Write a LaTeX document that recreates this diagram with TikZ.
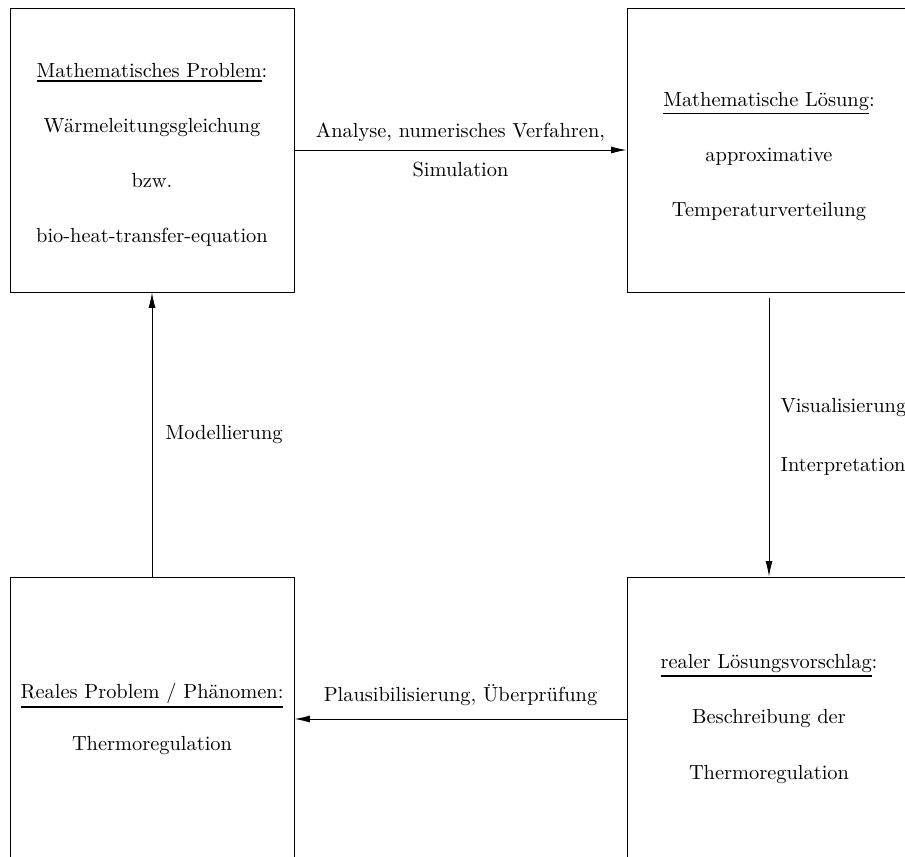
\documentclass[tikz,border=0pt]{standalone}
\usetikzlibrary{arrows.meta}
\newcommand{\heavyul}[1]{\vtop{\hbox{#1}\kern1.1pt\hrule height .95pt}}

\begin{document}
\begin{tikzpicture}[x=.49pt,y=-.49pt,line width=.45pt,
  box/.style={draw,rectangle,minimum width=139.2pt,minimum height=139.2pt,align=center,inner sep=0pt,font=\fontsize{10}{27}\selectfont},
  lbl/.style={align=left,inner sep=0pt,font=\fontsize{10}{29}\selectfont},
  >={Latex[length=7.5pt,width=3.4pt]}]
\path[use as bounding box] (0,0) rectangle (905,856);
\clip (0,0) rectangle (905,856);
\node[box] (mathprob) at (152,150) {\rule{0pt}{12pt}\heavyul{Mathematisches Problem}:\\ Wärmeleitungsgleichung\\ bzw.\\ bio-heat-transfer-equation};
\node[box] (mathsol) at (769,150) {\rule{0pt}{13pt}\heavyul{Mathematische Lösung}:\\ approximative\\ Temperaturverteilung};
\node[box] (realsol) at (769,719) {\heavyul{realer Lösungsvorschlag}:\\ Beschreibung der\\ Thermoregulation};
\node[box] (realprob) at (152,719) {\heavyul{Reales Problem / Phänomen:}\\[-1.5pt] Thermoregulation};
\draw[->] (mathprob.east) -- (mathsol.west)
  node[midway,align=center,inner sep=0pt,font=\fontsize{10}{19.5}\selectfont] (analyse) {Analyse, numerisches Verfahren,\\ Simulation};
\draw[->] ([yshift=-2.5pt]mathsol.south) -- (realsol.north)
  node[midway,right=5.5pt,lbl] (visual) {Visualisierung\\ Interpretation};
\draw[->] (realsol.west) -- (realprob.east)
  node[midway,above=6.5pt,inner sep=0pt] (plausi) {Plausibilisierung, Überprüfung};
\draw[->] (realprob.north) -- (mathprob.south)
  node[midway,right=6.5pt,inner sep=0pt] (modell) {Modellierung};
\end{tikzpicture}
\end{document}
